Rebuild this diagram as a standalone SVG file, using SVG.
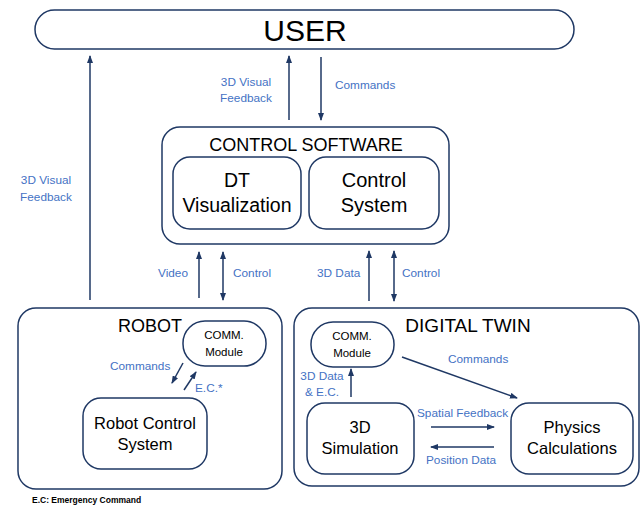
<svg xmlns="http://www.w3.org/2000/svg" width="640" height="505" viewBox="0 0 640 505">
<style>
.box{fill:#fff;stroke:#1F3864;stroke-width:1.5}
.t{font-family:"Liberation Sans",Arial,sans-serif;fill:#000;text-anchor:middle}
.lbl{font-family:"Liberation Sans",Arial,sans-serif;fill:#4472C4;font-size:11.8px}
.ln{stroke:#1F3864;stroke-width:1.5;fill:none}
</style>
<defs>
<marker id="ah" viewBox="0 0 8 6" refX="7" refY="3" markerWidth="8" markerHeight="6" markerUnits="userSpaceOnUse" orient="auto-start-reverse">
<path d="M0,0 L8,3 L0,6 z" fill="#1F3864"/>
</marker>
</defs>
<rect width="640" height="505" fill="#fff"/>

<g id="user">
<rect class="box" x="35" y="10" width="539" height="39" rx="19.5"/>
<text class="t" x="305" y="40.5" font-size="30">USER</text>
</g>

<g id="control-software">
<rect class="box" x="162" y="127" width="287" height="117" rx="18"/>
<text class="t" x="306" y="151" font-size="18">CONTROL SOFTWARE</text>
</g>
<g id="dt-visualization">
<rect class="box" x="173" y="157" width="128" height="72" rx="17"/>
<text class="t" x="237" y="187" font-size="19.5">DT</text>
<text class="t" x="237" y="212" font-size="19.5">Visualization</text>
</g>
<g id="control-system">
<rect class="box" x="309" y="157" width="130" height="72" rx="17"/>
<text class="t" x="374" y="187" font-size="20">Control</text>
<text class="t" x="374" y="212" font-size="20">System</text>
</g>

<g id="robot">
<rect class="box" x="18" y="308" width="264" height="181" rx="18"/>
<text class="t" x="150" y="332" font-size="18">ROBOT</text>
</g>
<g id="robot-comm">
<rect class="box" x="183" y="321" width="83" height="45" rx="22"/>
<text class="t" x="224" y="339" font-size="11.5">COMM.</text>
<text class="t" x="224" y="356" font-size="11.5">Module</text>
</g>
<g id="robot-control-system">
<rect class="box" x="83" y="398" width="124" height="71" rx="18"/>
<text class="t" x="145" y="429" font-size="16.5">Robot Control</text>
<text class="t" x="145" y="450" font-size="16.5">System</text>
</g>

<g id="digital-twin">
<rect class="box" x="294" y="308" width="345" height="178" rx="18"/>
<text class="t" x="468" y="332" font-size="19">DIGITAL TWIN</text>
</g>
<g id="dt-comm">
<rect class="box" x="311" y="322" width="83" height="45" rx="22"/>
<text class="t" x="352" y="340" font-size="11.5">COMM.</text>
<text class="t" x="352" y="357" font-size="11.5">Module</text>
</g>
<g id="simulation">
<rect class="box" x="307" y="403" width="107" height="71" rx="18"/>
<text class="t" x="360" y="433" font-size="16.5">3D</text>
<text class="t" x="360" y="454" font-size="16.5">Simulation</text>
</g>
<g id="physics">
<rect class="box" x="511" y="403" width="122" height="71" rx="18"/>
<text class="t" x="572" y="433" font-size="16.5">Physics</text>
<text class="t" x="572" y="454" font-size="16.5">Calculations</text>
</g>

<g id="connectors">
<line class="ln" x1="90" y1="300" x2="90" y2="56" marker-end="url(#ah)"/>
<line class="ln" x1="289" y1="120" x2="289" y2="56" marker-end="url(#ah)"/>
<line class="ln" x1="321" y1="57" x2="321" y2="120" marker-end="url(#ah)"/>
<line class="ln" x1="199" y1="298" x2="199" y2="252" marker-end="url(#ah)"/>
<line class="ln" x1="223" y1="252" x2="223" y2="300" marker-start="url(#ah)" marker-end="url(#ah)"/>
<line class="ln" x1="369" y1="301" x2="369" y2="251" marker-end="url(#ah)"/>
<line class="ln" x1="394" y1="251" x2="394" y2="301" marker-start="url(#ah)" marker-end="url(#ah)"/>
<line class="ln" x1="183" y1="363" x2="172" y2="383" marker-end="url(#ah)"/>
<line class="ln" x1="184" y1="390" x2="196" y2="372" marker-end="url(#ah)"/>
<line class="ln" x1="351" y1="397" x2="351" y2="369" marker-end="url(#ah)"/>
<line class="ln" x1="402" y1="357" x2="517" y2="398" marker-end="url(#ah)"/>
<line class="ln" x1="431" y1="427" x2="494" y2="427" marker-end="url(#ah)"/>
<line class="ln" x1="494" y1="447" x2="431" y2="447" marker-end="url(#ah)"/>

<text class="lbl" x="46" y="184" text-anchor="middle">3D Visual</text>
<text class="lbl" x="46" y="201" text-anchor="middle">Feedback</text>
<text class="lbl" x="246" y="86" text-anchor="middle">3D Visual</text>
<text class="lbl" x="246" y="102" text-anchor="middle">Feedback</text>
<text class="lbl" x="335" y="89">Commands</text>
<text class="lbl" x="158" y="277">Video</text>
<text class="lbl" x="233" y="277">Control</text>
<text class="lbl" x="317" y="277">3D Data</text>
<text class="lbl" x="402" y="277">Control</text>
<text class="lbl" x="110" y="370">Commands</text>
<text class="lbl" x="195" y="392">E.C.*</text>
<text class="lbl" x="322" y="380" text-anchor="middle">3D Data</text>
<text class="lbl" x="322" y="396" text-anchor="middle">&amp; E.C.</text>
<text class="lbl" x="448" y="363">Commands</text>
<text class="lbl" x="417" y="417">Spatial Feedback</text>
<text class="lbl" x="426" y="464">Position Data</text>
</g>

<text x="32" y="503" font-family="'Liberation Sans',Arial,sans-serif" font-weight="bold" font-size="8.5" fill="#000">E.C: Emergency Command</text>
</svg>
